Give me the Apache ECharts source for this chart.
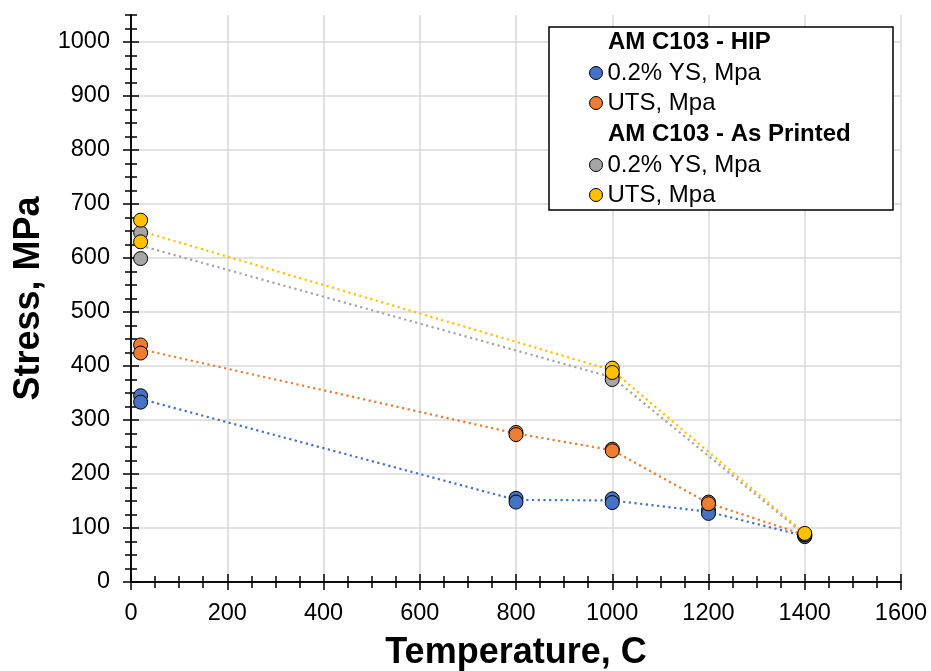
<!DOCTYPE html>
<html>
<head>
<meta charset="utf-8">
<script src="https://cdn.jsdelivr.net/npm/echarts@6.0.0/dist/echarts.min.js"></script>
<style>
  html, body { margin: 0; padding: 0; background: #fff; }
  #box { width: 931px; height: 671px; }
</style>
</head>
<body>
<div id="box"></div>
<script>
// tick values
const xTicks = [0, 200, 400, 600, 800, 1000, 1200, 1400, 1600]
const xMinorTicks = [0, 50, 100, 150, 200, 250, 300, 350, 400, 450, 500, 550, 600, 650, 700, 750, 800,
  850, 900, 950, 1000, 1050, 1100, 1150, 1200, 1250, 1300, 1350, 1400, 1450, 1500, 1550, 1600]
const yTicks = [0, 100, 200, 300, 400, 500, 600, 700, 800, 900, 1000]
const yMinorTicks = [0, 25, 50, 75, 100, 125, 150, 175, 200, 225, 250, 275, 300, 325, 350, 375, 400,
  425, 450, 475, 500, 525, 550, 575, 600, 625, 650, 675, 700, 725, 750, 775, 800, 825, 850, 875, 900,
  925, 950, 975, 1000, 1025, 1050]

// AM C103 - HIP, test points
const hipYsTemp = [20, 20, 800, 800, 1000, 1000, 1200, 1200, 1400, 1400]
const hipYsVal = [345, 333, 155, 148, 154, 147, 133, 127, 86, 84]
const hipUtsTemp = [20, 20, 800, 800, 1000, 1000, 1200, 1200, 1400]
const hipUtsVal = [439, 424, 277, 273, 246, 243, 148, 145, 87]
// AM C103 - As Printed, test points
const apYsTemp = [20, 20, 1000, 1000, 1400]
const apYsVal = [647, 599, 383, 375, 88]
const apUtsTemp = [20, 20, 1000, 1000, 1400]
const apUtsVal = [670, 630, 396, 388, 90]

// trend lines (averages)
const hipTrendTemp = [20, 800, 1000, 1200, 1400]
const hipYsTrend = [339, 152, 151, 130, 85]
const hipUtsTrend = [431, 275, 244, 146, 87]
const apTrendTemp = [20, 1000, 1400]
const apYsTrend = [623, 379, 88]
const apUtsTrend = [650, 392, 90]

const FONT = '"Liberation Sans", Arial, sans-serif'
const BLUE = '#4472C4', ORANGE = '#ED7D31', GRAY = '#A5A5A5', YELLOW = '#FFC000'

const pairs = (xs, ys) => xs.map((x, i) => [x, ys[i]])

function tickAxis(base, pos, ticks, len, inside, line) {
  return Object.assign({}, base, {
    position: pos,
    offset: 0,
    axisLine: { show: line, lineStyle: { color: '#000', width: 1.5 } },
    axisTick: { show: true, inside: inside, length: len, customValues: ticks, lineStyle: { color: '#000', width: 1.5 } },
    axisLabel: { show: false },
    splitLine: { show: false }
  })
}

const xBase = { type: 'value', min: 0, max: 1600, interval: 200 }
const yBase = { type: 'value', min: 0, max: 1050, interval: 100 }

const myeCharts = echarts.init(document.getElementById('box'))
const option = {
  animation: false,
  backgroundColor: '#fff',
  grid: { left: 131, right: 30, top: 15, bottom: 89, containLabel: false, outerBoundsMode: 'none' },
  xAxis: [
    Object.assign({}, xBase, {
      position: 'bottom',
      name: 'Temperature, C',
      nameLocation: 'middle',
      nameGap: 53,
      nameTextStyle: { fontFamily: FONT, fontSize: 36, fontWeight: 'bold', color: '#000' },
      axisLine: { show: true, lineStyle: { color: '#000', width: 1.5 } },
      axisTick: { show: true, length: 7, customValues: xTicks, lineStyle: { color: '#000', width: 1.5 } },
      axisLabel: { customValues: xTicks, formatter: v => String(v), margin: 20, fontFamily: FONT, fontSize: 23.5, color: '#000' },
      splitLine: { show: true, lineStyle: { color: '#d9d9d9', width: 1.5 } }
    }),
    tickAxis(xBase, 'bottom', xTicks, 8, true, false),
    tickAxis(xBase, 'bottom', xMinorTicks, 6, false, false),
    tickAxis(xBase, 'top', xTicks, 7, false, true),
    tickAxis(xBase, 'top', xTicks, 8, true, false),
    tickAxis(xBase, 'top', xMinorTicks, 6, false, false)
  ],
  yAxis: [
    Object.assign({}, yBase, {
      position: 'left',
      name: 'Stress, MPa',
      nameLocation: 'middle',
      nameGap: 78,
      nameTextStyle: { fontFamily: FONT, fontSize: 36, fontWeight: 'bold', color: '#000' },
      axisLine: { show: true, lineStyle: { color: '#000', width: 1.5 } },
      axisTick: { show: true, length: 7, customValues: yTicks, lineStyle: { color: '#000', width: 1.5 } },
      axisLabel: { customValues: yTicks, formatter: v => String(v), margin: 21, fontFamily: FONT, fontSize: 23.5, color: '#000' },
      splitLine: { show: true, lineStyle: { color: '#d9d9d9', width: 1.5 } }
    }),
    tickAxis(yBase, 'left', yTicks, 8, true, false),
    tickAxis(yBase, 'left', yMinorTicks, 6, false, false),
    tickAxis(yBase, 'right', yTicks, 7, false, true),
    tickAxis(yBase, 'right', yTicks, 8, true, false),
    tickAxis(yBase, 'right', yMinorTicks, 6, false, false)
  ],
  legend: [
    {
      data: ['HIP 0.2% YS, Mpa', 'HIP UTS, Mpa'],
      orient: 'vertical', left: 589, top: 58, padding: 0, itemGap: 0,
      itemWidth: 13, itemHeight: 13, icon: 'circle', z: 6,
      itemStyle: { borderColor: '#000', borderWidth: 1 },
      formatter: name => name.replace(/^(HIP|AP) /, ''),
      textStyle: { fontFamily: FONT, fontSize: 24, color: '#000', lineHeight: 30 }
    },
    {
      data: ['AP 0.2% YS, Mpa', 'AP UTS, Mpa'],
      orient: 'vertical', left: 589, top: 150, padding: 0, itemGap: 0,
      itemWidth: 13, itemHeight: 13, icon: 'circle', z: 6,
      itemStyle: { borderColor: '#000', borderWidth: 1 },
      formatter: name => name.replace(/^(HIP|AP) /, ''),
      textStyle: { fontFamily: FONT, fontSize: 24, color: '#000', lineHeight: 30 }
    }
  ],
  graphic: [
    { type: 'rect', z: 4, shape: { x: 549, y: 27, width: 344, height: 183 },
      style: { fill: '#fff', stroke: '#000', lineWidth: 1.5 } },
    { type: 'text', z: 5, x: 608, y: 42,
      style: { text: 'AM C103 - HIP', fontFamily: FONT, fontSize: 24, fontWeight: 'bold', fill: '#000', verticalAlign: 'middle' } },
    { type: 'text', z: 5, x: 608, y: 134,
      style: { text: 'AM C103 - As Printed', fontFamily: FONT, fontSize: 24, fontWeight: 'bold', fill: '#000', verticalAlign: 'middle' } }
  ],
  series: [
    { name: 'hip ys trend', type: 'line', data: pairs(hipTrendTemp, hipYsTrend), symbol: 'none', silent: true, z: 2,
      lineStyle: { color: BLUE, width: 2.2, type: [2.2, 3.5] } },
    { name: 'hip uts trend', type: 'line', data: pairs(hipTrendTemp, hipUtsTrend), symbol: 'none', silent: true, z: 2,
      lineStyle: { color: ORANGE, width: 2.2, type: [2.2, 3.5] } },
    { name: 'ap ys trend', type: 'line', data: pairs(apTrendTemp, apYsTrend), symbol: 'none', silent: true, z: 2,
      lineStyle: { color: GRAY, width: 2.2, type: [2.2, 3.5] } },
    { name: 'ap uts trend', type: 'line', data: pairs(apTrendTemp, apUtsTrend), symbol: 'none', silent: true, z: 2,
      lineStyle: { color: YELLOW, width: 2.2, type: [2.2, 3.5] } },
    { name: 'HIP 0.2% YS, Mpa', type: 'scatter', data: pairs(hipYsTemp, hipYsVal), symbol: 'circle', symbolSize: 14, z: 3,
      itemStyle: { color: BLUE, borderColor: '#000', borderWidth: 1, opacity: 1 } },
    { name: 'HIP UTS, Mpa', type: 'scatter', data: pairs(hipUtsTemp, hipUtsVal), symbol: 'circle', symbolSize: 14, z: 3,
      itemStyle: { color: ORANGE, borderColor: '#000', borderWidth: 1, opacity: 1 } },
    { name: 'AP 0.2% YS, Mpa', type: 'scatter', data: pairs(apYsTemp, apYsVal), symbol: 'circle', symbolSize: 14, z: 3,
      itemStyle: { color: GRAY, borderColor: '#000', borderWidth: 1, opacity: 1 } },
    { name: 'AP UTS, Mpa', type: 'scatter', data: pairs(apUtsTemp, apUtsVal), symbol: 'circle', symbolSize: 14, z: 3,
      itemStyle: { color: YELLOW, borderColor: '#000', borderWidth: 1, opacity: 1 } }
  ]
}
myeCharts.setOption(option)
</script>
</body>
</html>
